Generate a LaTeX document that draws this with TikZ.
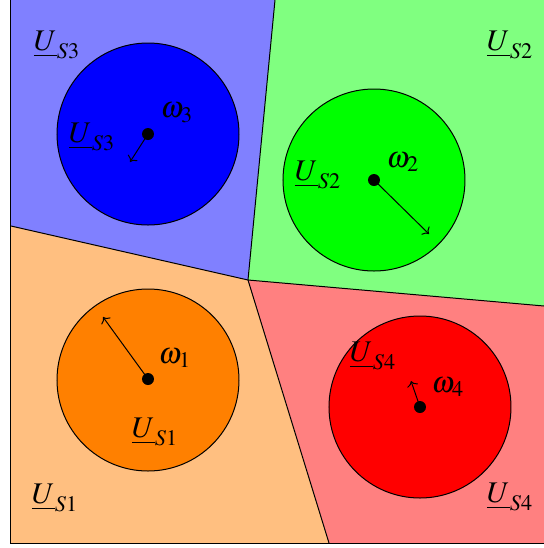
\documentclass[tikz,border=0pt]{standalone}
\usepackage{mathptmx}
\usetikzlibrary{arrows.meta}

\begin{document}
\begin{tikzpicture}[
    x=0.5pt, y=-0.5pt,
    font=\fontsize{15}{18}\selectfont,
    % --- estilos ---
    border/.style = {draw=black, line width=0.5pt},
    disk/.style   = {draw=black, line width=0.5pt},
    dot/.style    = {circle, fill=black, inner sep=0pt, minimum size=6pt},
    spin/.style   = {->, line width=0.5pt},
    lbl/.style    = {inner sep=1pt}
]
\useasboundingbox (0,0) rectangle (544,548);

% ===================== PUNTOS DE LAS FRONTERAS =====================
\coordinate (mid)   at (248,280);
\coordinate (top)   at (275,0);
\coordinate (left)  at (11,226);
\coordinate (right) at (544,306);
\coordinate (bot)   at (329,543);

% ===================== REGIONES =====================
\fill[blue!50]   (11,0) -- (top) -- (mid) -- (left) -- cycle;
\fill[green!50]  (top) -- (544,0) -- (right) -- (mid) -- cycle;
\fill[red!50]    (mid) -- (right) -- (544,543) -- (bot) -- cycle;
\fill[orange!50] (left) -- (mid) -- (bot) -- (11,543) -- cycle;

\draw[border] (left) -- (mid) -- (right);
\draw[border] (top) -- (mid) -- (bot);
\draw[border] (11,0) -- (11,543) -- (544,543);

% ===================== DISCOS =====================
\filldraw[disk, fill=blue]   (148,134) circle[radius=91];
\filldraw[disk, fill=green]  (374,180) circle[radius=91];
\filldraw[disk, fill=orange] (148,380) circle[radius=91];
\filldraw[disk, fill=red]    (420,407) circle[radius=91];

% ===================== CENTROS Y FLECHAS =====================
\node[dot] (w3) at (148,134) {};
\node[dot] (w2) at (374,180) {};
\node[dot] (w1) at (148,379) {};
\node[dot] (w4) at (420,407) {};

\coordinate (w3tip) at (130,162);
\coordinate (w2tip) at (429,234);
\coordinate (w1tip) at (103,317);
\coordinate (w4tip) at (411,381);

\draw[spin] (w3.center) -- (w3tip);
\draw[spin] (w2.center) -- (w2tip);
\draw[spin] (w1.center) -- (w1tip);
\draw[spin] (w4.center) -- (w4tip);

% ===================== ETIQUETAS =====================
\node[lbl] (om3)  at (177,113) {$\omega_3$};
\node[lbl] (us3i) at (92,137)  {$\underline{U}_{S3}$};
\node[lbl] (us3o) at (57,45)   {$\underline{U}_{S3}$};

\node[lbl] (om2)  at (403,162) {$\omega_2$};
\node[lbl] (us2i) at (318,175) {$\underline{U}_{S2}$};
\node[lbl] (us2o) at (510,45)  {$\underline{U}_{S2}$};

\node[lbl] (om1)  at (175,358) {$\omega_1$};
\node[lbl] (us1i) at (155,432) {$\underline{U}_{S1}$};
\node[lbl] (us1o) at (55,498)  {$\underline{U}_{S1}$};

\node[lbl] (om4)  at (448,387) {$\omega_4$};
\node[lbl] (us4i) at (373,356) {$\underline{U}_{S4}$};
\node[lbl] (us4o) at (510,497) {$\underline{U}_{S4}$};

\end{tikzpicture}
\end{document}
